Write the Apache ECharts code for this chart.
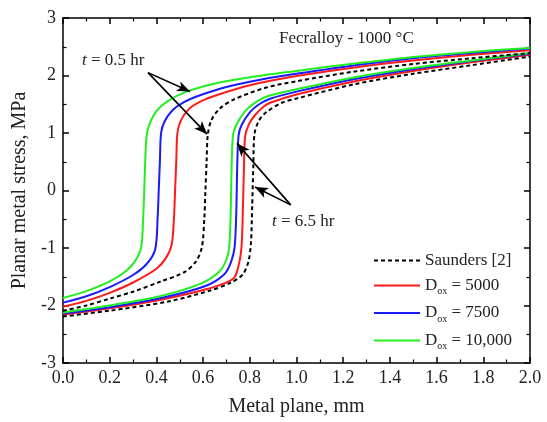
<!DOCTYPE html>
<html>
<head>
<meta charset="utf-8">
<title>Planar metal stress</title>
<script src="https://cdn.jsdelivr.net/npm/echarts@6/dist/echarts.min.js"></script>
<style>
  html, body { margin: 0; padding: 0; background: #fff; }
  #main { width: 547px; height: 422px; }
</style>
</head>
<body>
<div id="main"></div>
<script>
// curves: [metal plane (mm), stress (MPa)]
var saunders05 = [[0,-2.09],[0.1,-2.0],[0.2,-1.88],[0.3,-1.76],[0.42,-1.58],[0.52,-1.42],[0.57,-1.23],[0.595,-0.98],[0.605,-0.5],[0.61,0],[0.615,0.5],[0.62,0.96],[0.635,1.22],[0.67,1.42],[0.73,1.58],[0.87,1.79],[1.0,1.9],[1.25,2.07],[1.5,2.2],[1.75,2.3],[2.0,2.39]];
var saunders65 = [[0,-2.19],[0.2,-2.09],[0.45,-1.93],[0.63,-1.74],[0.72,-1.6],[0.77,-1.46],[0.795,-1.22],[0.805,-0.9],[0.81,-0.3],[0.815,0.4],[0.82,0.98],[0.84,1.22],[0.87,1.36],[0.94,1.53],[1.0,1.6],[1.25,1.85],[1.5,2.03],[1.75,2.18],[2.0,2.33]];
var red05 = [[0,-2.02],[0.1,-1.92],[0.2,-1.78],[0.3,-1.6],[0.4,-1.36],[0.44,-1.18],[0.465,-0.95],[0.475,-0.5],[0.48,0],[0.485,0.5],[0.49,1.0],[0.505,1.22],[0.54,1.42],[0.59,1.55],[0.66,1.66],[0.8,1.83],[1.0,1.99],[1.25,2.14],[1.5,2.26],[1.75,2.36],[2.0,2.44]];
var red65 = [[0,-2.16],[0.2,-2.05],[0.43,-1.89],[0.62,-1.71],[0.73,-1.53],[0.755,-1.25],[0.765,-0.95],[0.77,-0.4],[0.775,0.4],[0.78,0.94],[0.795,1.14],[0.82,1.3],[0.86,1.46],[0.89,1.53],[1.0,1.67],[1.25,1.9],[1.5,2.08],[1.75,2.23],[2.0,2.36]];
var blue05 = [[0,-1.95],[0.1,-1.84],[0.2,-1.68],[0.3,-1.47],[0.36,-1.27],[0.395,-1.02],[0.405,-0.5],[0.41,0],[0.415,0.5],[0.42,1.0],[0.435,1.2],[0.47,1.4],[0.52,1.54],[0.59,1.66],[0.7,1.8],[0.85,1.93],[1.0,2.03],[1.25,2.18],[1.5,2.3],[1.75,2.39],[2.0,2.47]];
var blue65 = [[0,-2.14],[0.2,-2.03],[0.42,-1.87],[0.61,-1.66],[0.69,-1.46],[0.72,-1.24],[0.735,-0.98],[0.742,-0.4],[0.746,0.4],[0.752,0.96],[0.765,1.14],[0.8,1.36],[0.84,1.5],[0.89,1.6],[1.0,1.72],[1.25,1.94],[1.5,2.11],[1.75,2.25],[2.0,2.38]];
var green05 = [[0,-1.87],[0.1,-1.75],[0.2,-1.58],[0.27,-1.4],[0.31,-1.22],[0.335,-0.98],[0.343,-0.5],[0.348,0],[0.352,0.5],[0.358,0.95],[0.37,1.15],[0.4,1.38],[0.45,1.56],[0.53,1.72],[0.66,1.87],[0.8,1.97],[1.0,2.08],[1.25,2.21],[1.5,2.32],[1.75,2.41],[2.0,2.48]];
var green65 = [[0,-2.12],[0.2,-2.0],[0.415,-1.84],[0.59,-1.62],[0.67,-1.41],[0.7,-1.2],[0.712,-0.98],[0.718,-0.4],[0.722,0.4],[0.728,0.96],[0.742,1.14],[0.78,1.38],[0.82,1.52],[0.87,1.63],[1.0,1.76],[1.25,1.97],[1.5,2.13],[1.75,2.26],[2.0,2.39]];

var legendNames = ['Saunders [2]', 'D_ox = 5000', 'D_ox = 7500', 'D_ox = 10,000'];
var xTicks = { min: 0, max: 2, step: 0.2 };
var yTicks = { min: -3, max: 3, step: 1 };

// arrows of the two time labels, in data units
var arrows = [
  [[0.364, 2.05], [0.544, 1.72]],
  [[0.364, 2.05], [0.617, 0.98]],
  [[0.975, -0.25], [0.745, 0.82]],
  [[0.975, -0.25], [0.822, 0.06]]
];

var font = 'Liberation Serif';

function curve(name, data, color, dashed) {
  return {
    name: name,
    type: 'line',
    data: data,
    smooth: 0.3,
    symbol: 'none',
    z: dashed ? 3 : 2,
    lineStyle: { color: color, width: 2, type: dashed ? [4, 3] : 'solid' },
    itemStyle: { color: color }
  };
}

var myChart = echarts.init(document.getElementById('main'));

var axisCommon = {
  axisLine: { show: true, onZero: false, lineStyle: { color: '#000', width: 1.5 } },
  axisTick: { show: true, inside: true, length: 6, lineStyle: { color: '#000', width: 1.5 } },
  minorTick: { show: true, splitNumber: 2, length: 3.5, lineStyle: { color: '#000', width: 1.2 } },
  splitLine: { show: false }
};

var option = {
  animation: false,
  backgroundColor: '#fff',
  textStyle: { fontFamily: font },
  grid: { left: 63, right: 17, top: 18, bottom: 57 },
  xAxis: [
    Object.assign({
      type: 'value', min: xTicks.min, max: xTicks.max, interval: xTicks.step,
      name: 'Metal plane, mm', nameLocation: 'middle', nameGap: 34,
      nameTextStyle: { fontFamily: font, fontSize: 20, color: '#222' },
      axisLabel: { fontFamily: font, fontSize: 18, color: '#222', margin: 6,
        formatter: function (v) { return v.toFixed(1); } }
    }, axisCommon),
    Object.assign({
      type: 'value', position: 'top', min: xTicks.min, max: xTicks.max, interval: xTicks.step,
      axisLabel: { show: false }
    }, axisCommon)
  ],
  yAxis: [
    Object.assign({
      type: 'value', min: yTicks.min, max: yTicks.max, interval: yTicks.step,
      name: 'Planar metal stress, MPa', nameLocation: 'middle', nameGap: 30,
      nameTextStyle: { fontFamily: font, fontSize: 20, color: '#222' },
      axisLabel: { fontFamily: font, fontSize: 18, color: '#222', margin: 7 }
    }, axisCommon),
    Object.assign({
      type: 'value', position: 'right', min: yTicks.min, max: yTicks.max, interval: yTicks.step,
      axisLabel: { show: false }
    }, axisCommon)
  ],
  legend: {
    data: legendNames,
    orient: 'vertical',
    left: 368,
    top: 247,
    itemWidth: 46,
    itemHeight: 10,
    itemGap: 8,
    itemStyle: { opacity: 0 },
    textStyle: {
      fontFamily: font, fontSize: 17, color: '#222',
      rich: {
        d: { fontFamily: font, fontSize: 17, color: '#222' },
        s: { fontFamily: font, fontSize: 10, color: '#222', padding: [12, 0, 0, 0] }
      }
    },
    formatter: function (name) {
      if (name.indexOf('D_ox') === 0) {
        return '{d|D}{s|ox}{d|' + name.slice(4) + '}';
      }
      return name;
    }
  },
  graphic: [
    { type: 'text', left: 279, top: 30, style: { text: 'Fecralloy - 1000 °C', font: '17px "Liberation Serif"', fill: '#222' } },
    { type: 'text', left: 82, top: 52, style: { text: '{i|t} = 0.5 hr', font: '17px "Liberation Serif"', fill: '#222',
      rich: { i: { fontStyle: 'italic', fontFamily: font, fontSize: 17 } } } },
    { type: 'text', left: 272, top: 213, style: { text: '{i|t} = 6.5 hr', font: '17px "Liberation Serif"', fill: '#222',
      rich: { i: { fontStyle: 'italic', fontFamily: font, fontSize: 17 } } } }
  ],
  series: [
    curve(legendNames[0], saunders05, '#000', true),
    curve(legendNames[0], saunders65, '#000', true),
    curve(legendNames[1], red05, '#ff1a1a', false),
    curve(legendNames[1], red65, '#ff1a1a', false),
    curve(legendNames[2], blue05, '#1a1aff', false),
    curve(legendNames[2], blue65, '#1a1aff', false),
    curve(legendNames[3], green05, '#22ee22', false),
    curve(legendNames[3], green65, '#22ee22', false),
    {
      name: 'arrows',
      type: 'line',
      data: [],
      symbol: 'none',
      markLine: {
        silent: true,
        symbol: ['none', 'arrow'],
        symbolSize: [8, 13],
        label: { show: false },
        lineStyle: { color: '#000', width: 1.6, type: 'solid' },
        data: arrows.map(function (a) {
          return [{ coord: a[0] }, { coord: a[1] }];
        })
      }
    }
  ]
};

myChart.setOption(option);
</script>
</body>
</html>
